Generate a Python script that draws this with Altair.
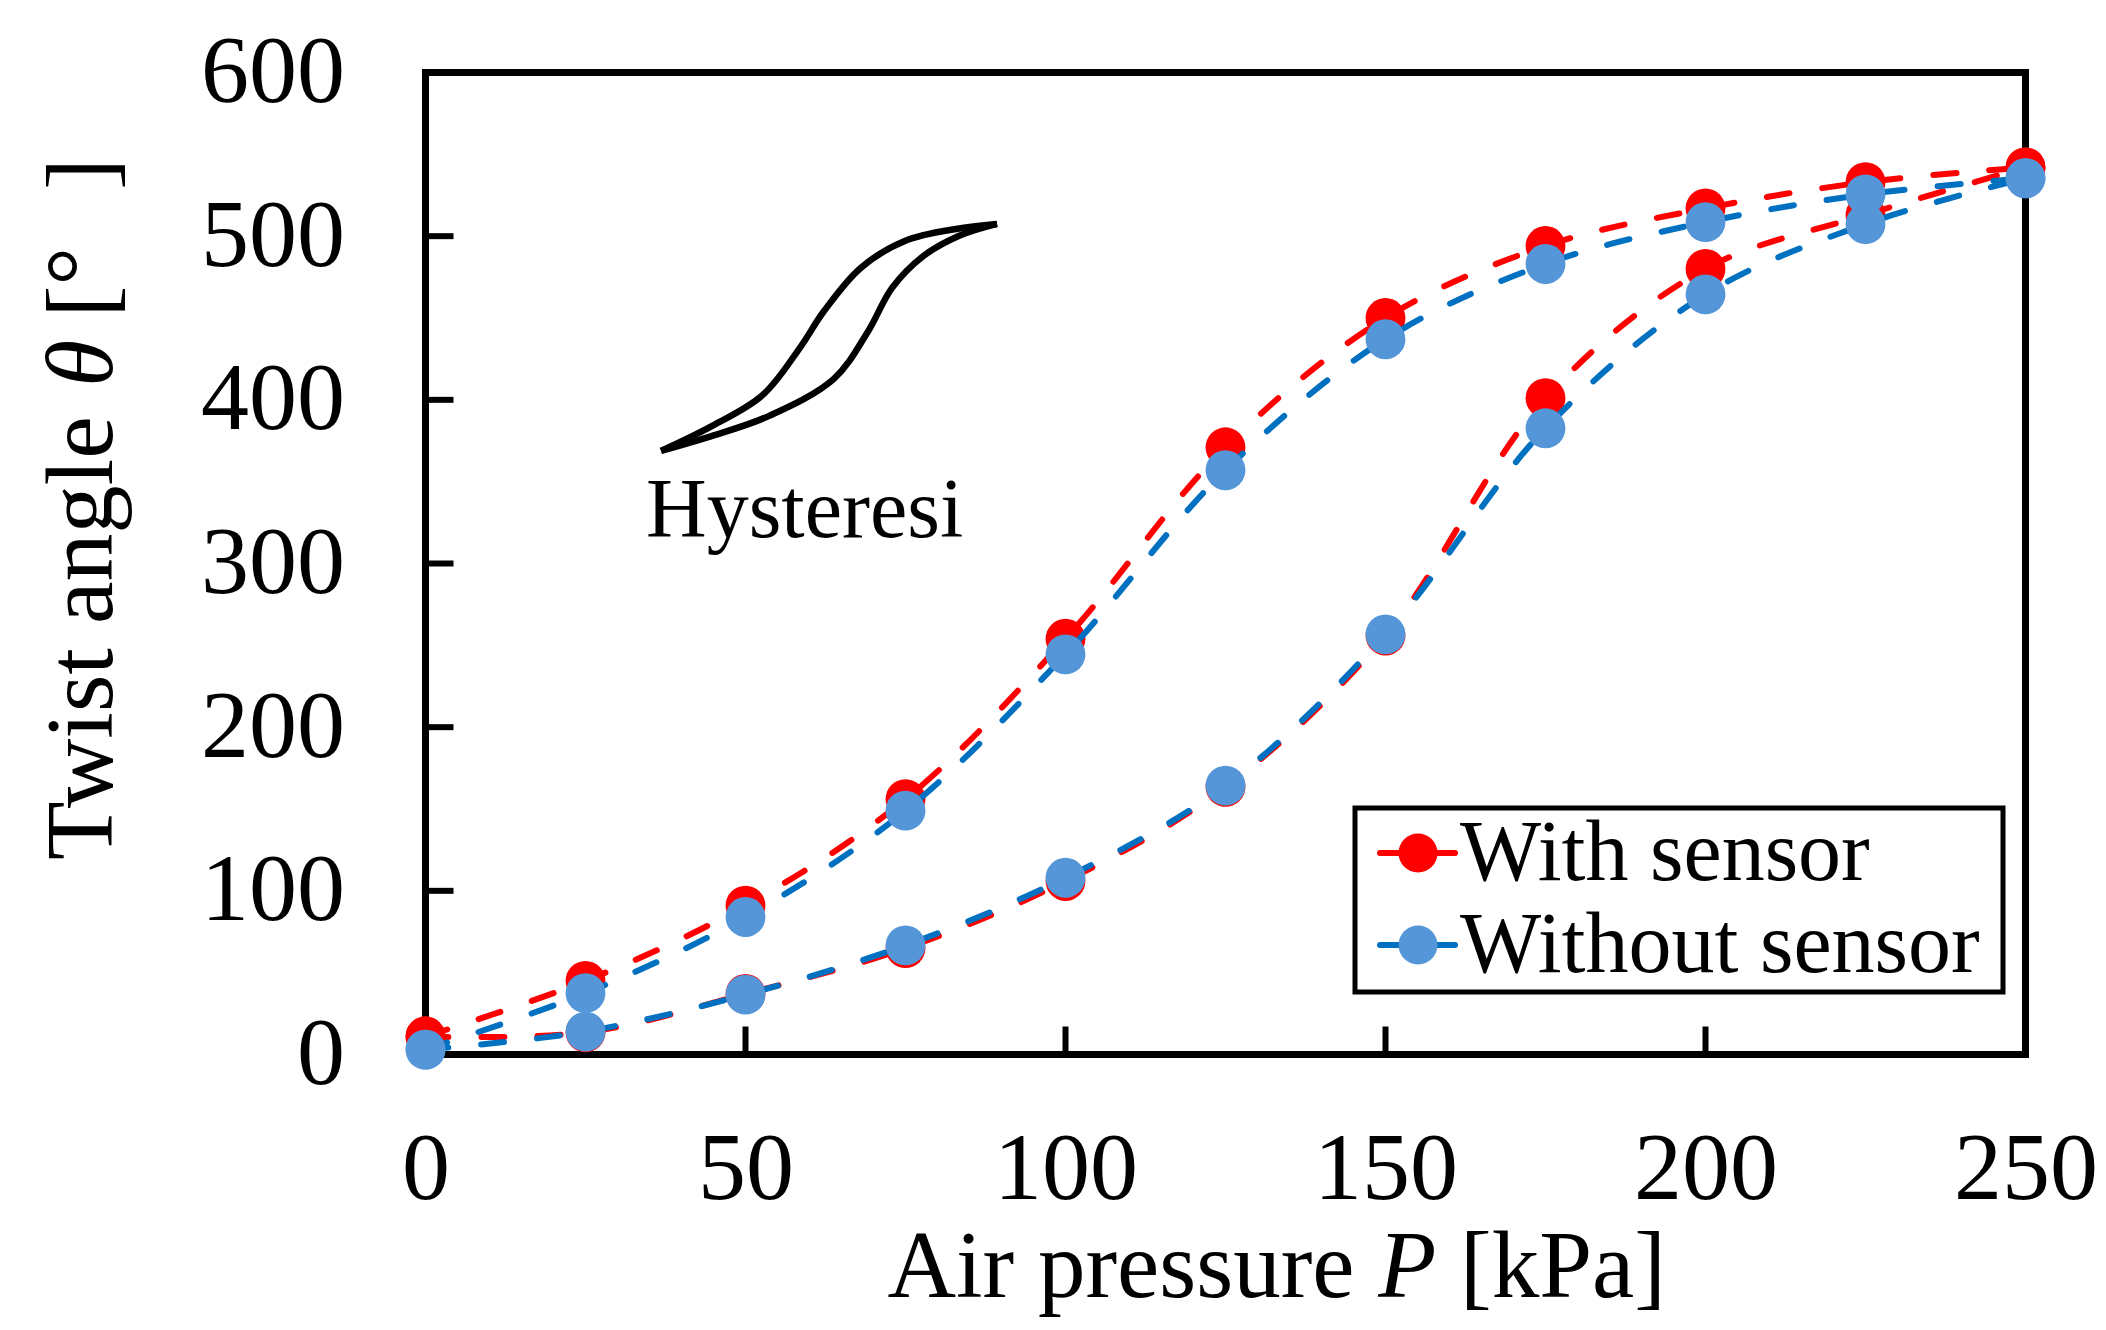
import altair as alt
import pandas as pd

# ---------------- data ----------------
pressure = [0, 25, 50, 75, 100, 125, 150, 175, 200, 225, 250]
with_upper = [11, 45, 91, 156, 254, 371, 450, 494, 517, 533, 542]
with_lower = [11, 13.5, 37, 65, 106, 163.5, 256, 401, 480, 513, 542]
without_upper = [3, 37.5, 84, 149, 244.5, 357, 437, 483, 508.6, 525.5, 535.4]
without_lower = [3, 14, 36.6, 66.7, 108, 164.3, 256.7, 382.6, 464.4, 507.4, 535.4]
series_names = ["With sensor", "Without sensor"]

x_ticks = [0, 50, 100, 150, 200, 250]
y_ticks = [0, 100, 200, 300, 400, 500, 600]
x_inner_ticks = [50, 100, 150, 200]
y_inner_ticks = [100, 200, 300, 400, 500]

# hysteresis icon outline (data units)
hyst_up_x = [36.8, 44.8, 52.7, 58.5, 62.3, 68.0, 74.9, 82.9, 89.3]
hyst_up_y = [368.8, 384.1, 403.0, 431.8, 454.4, 480.6, 497.1, 504.4, 507.5]
hyst_lo_x = [36.8, 44.8, 53.7, 63.8, 69.1, 72.9, 77.6, 83.3, 89.3]
hyst_lo_y = [368.8, 378.0, 390.2, 412.8, 441.5, 468.4, 487.3, 500.1, 507.5]

# ---------------- tables ----------------
rows = []
for name, up, lo in [(series_names[0], with_upper, with_lower),
                     (series_names[1], without_upper, without_lower)]:
    for p, v in zip(pressure, up):
        rows.append({"series": name, "branch": "up", "P": p, "theta": v})
    for p, v in zip(pressure, lo):
        rows.append({"series": name, "branch": "down", "P": p, "theta": v})
df = pd.DataFrame(rows)

hyst = pd.DataFrame(
    [{"curve": "a", "P": x, "theta": y} for x, y in zip(hyst_up_x, hyst_up_y)]
    + [{"curve": "b", "P": x, "theta": y} for x, y in zip(hyst_lo_x, hyst_lo_y)]
)

FONT = "Liberation Serif"
RED = "#FF0000"
BLUE_LINE = "#0070C0"
BLUE_MARK = "#5596D9"

X = alt.X("P:Q", scale=alt.Scale(domain=[0, 250], nice=False, zero=True),
          axis=alt.Axis(values=x_ticks, title=None, ticks=False, domain=False, grid=False,
                        labelFontSize=96, labelFont=FONT, labelColor="black",
                        labelPadding=68, labelOverlap=False, labelFlush=False))
Y = alt.Y("theta:Q", scale=alt.Scale(domain=[0, 600], nice=False, zero=True),
          axis=alt.Axis(values=y_ticks, title=None, ticks=False, domain=False, grid=False,
                        labelFontSize=96, labelFont=FONT, labelColor="black",
                        labelPadding=81, labelOverlap=False, labelFlush=False))


def series_line(name, color):
    return alt.Chart(df).transform_filter(alt.datum.series == name).mark_line(
        color=color, strokeWidth=6, strokeDash=[23, 33], strokeCap="round",
        interpolate="catmull-rom"
    ).encode(x=X, y=Y, detail="branch:N", order="P:Q")


def series_points(name, color):
    return alt.Chart(df).transform_filter(alt.datum.series == name).mark_circle(
        color=color, size=1590, opacity=1
    ).encode(x=X, y=Y)


def text_at(s, x, y, size, angle=0, italic=False, align="left", baseline="alphabetic"):
    kw = dict(font=FONT, fontSize=size, color="black", align=align, baseline=baseline)
    if angle:
        kw["angle"] = angle
    if italic:
        kw["fontStyle"] = "italic"
    return alt.Chart(pd.DataFrame({"t": [s]})).mark_text(**kw).encode(
        text="t:N", x=alt.value(x), y=alt.value(y))


one = pd.DataFrame({"a": [0]})

# inward ticks
y_tick_layer = alt.Chart(pd.DataFrame({"theta": y_inner_ticks})).mark_rule(
    color="black", strokeWidth=6).encode(y=Y, x=alt.value(0), x2=alt.value(28))
x_tick_layer = alt.Chart(pd.DataFrame({"P": x_inner_ticks})).mark_rule(
    color="black", strokeWidth=6).encode(x=X, y=alt.value(982), y2=alt.value(954))

hyst_layer = alt.Chart(hyst).mark_line(
    color="black", strokeWidth=6.5, interpolate="catmull-rom", strokeJoin="round"
).encode(x=X, y=Y, detail="curve:N", order="P:Q")

hyst_text = text_at("Hysteresi", 220.5, 464.5, 84)

# axis titles (mixed italic)
TY = 1224
xt1 = text_at("Air pressure", 462, TY, 95)
xt2 = text_at("P", 952.8, TY, 95, italic=True)
xt3 = text_at("[kPa]", 1034.5, TY, 95)

yt1 = text_at("Twist angle", -313.5, 787.5, 96, angle=270)
yt2 = text_at("θ", -313.5, 314.5, 96, angle=270, italic=True)
yt3 = text_at("[°", -313.5, 245, 96, angle=270)
yt4 = text_at("]", -313.5, 117.5, 96, angle=270)

# legend
leg_box = alt.Chart(one).mark_rect(fill="white", stroke="black", strokeWidth=5).encode(
    x=alt.value(929.5), x2=alt.value(1577.5), y=alt.value(735.5), y2=alt.value(919.5))
leg_layers = [leg_box]
for i, (name, lc, mc) in enumerate([(series_names[0], RED, RED),
                                    (series_names[1], BLUE_LINE, BLUE_MARK)]):
    yc = 780.5 + i * 92
    leg_layers.append(alt.Chart(one).mark_rule(color=lc, strokeWidth=6, strokeCap="round").encode(
        x=alt.value(954.5), x2=alt.value(1029.5), y=alt.value(yc)))
    leg_layers.append(alt.Chart(one).mark_circle(color=mc, size=1520, opacity=1).encode(
        x=alt.value(992.5), y=alt.value(yc)))
    leg_layers.append(text_at(name, 1034.5, yc + 27, 86))

chart = alt.layer(
    y_tick_layer, x_tick_layer,
    series_line(series_names[0], RED), series_points(series_names[0], RED),
    series_line(series_names[1], BLUE_LINE), series_points(series_names[1], BLUE_MARK),
    hyst_layer, hyst_text,
    xt1, xt2, xt3, yt1, yt2, yt3, yt4,
    *leg_layers,
).properties(
    width=1600, height=982,
    autosize=alt.AutoSizeParams(type="none"),
    padding={"left": 417.5, "top": 64.5, "right": 72, "bottom": 267.5},
    background="white",
).configure_view(stroke="black", strokeWidth=7)

chart.save("out.html", embed_options={"renderer": "svg", "actions": False})
